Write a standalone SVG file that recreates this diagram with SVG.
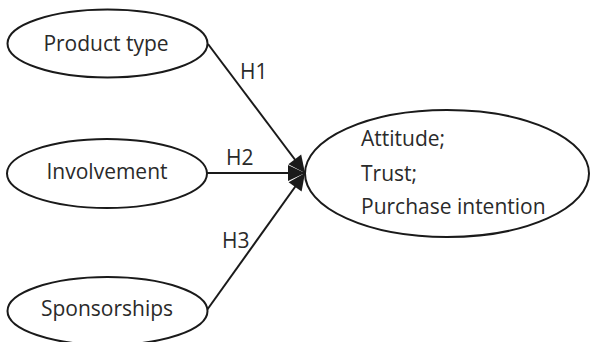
<svg xmlns="http://www.w3.org/2000/svg" width="590" height="342" viewBox="0 0 590 342">
  <style>
    .node { fill: #ffffff; stroke: #1a1a1a; stroke-width: 2; }
    .label { font-family: "Open Sans", "Noto Sans", sans-serif; font-size: 21px; fill: #2a2a2a; }
    .edge { stroke: #1a1a1a; stroke-width: 2; fill: none; marker-end: url(#arrow); }
  </style>
  <defs>
    <marker id="arrow" markerUnits="userSpaceOnUse" markerWidth="20" markerHeight="18" viewBox="-18 -9 20 18" refX="0" refY="0" orient="auto">
      <path d="M0,0 L-17,-8 L-17,8 Z" fill="#1a1a1a"/>
    </marker>
  </defs>

  <g id="edges">
    <line class="edge" x1="208" y1="44" x2="305" y2="173"/>
    <line class="edge" x1="207" y1="173" x2="305" y2="173"/>
    <line class="edge" x1="207" y1="310" x2="305" y2="173"/>
    <text class="label" x="240" y="79">H1</text>
    <text class="label" x="226" y="165">H2</text>
    <text class="label" x="222" y="248">H3</text>
  </g>

  <g id="product-type">
    <ellipse class="node" cx="107.5" cy="43.5" rx="100" ry="34"/>
    <text class="label" x="106" y="51" text-anchor="middle">Product type</text>
  </g>

  <g id="involvement">
    <ellipse class="node" cx="107" cy="173.5" rx="100" ry="34.5"/>
    <text class="label" x="107" y="179" text-anchor="middle">Involvement</text>
  </g>

  <g id="sponsorships">
    <ellipse class="node" cx="107.5" cy="311" rx="100" ry="34"/>
    <text class="label" x="107" y="316" text-anchor="middle">Sponsorships</text>
  </g>

  <g id="outcomes">
    <ellipse class="node" cx="447" cy="173.5" rx="142" ry="63.5"/>
    <text class="label" x="361" y="146">Attitude;</text>
    <text class="label" x="361" y="181">Trust;</text>
    <text class="label" x="361" y="214">Purchase intention</text>
  </g>
</svg>
